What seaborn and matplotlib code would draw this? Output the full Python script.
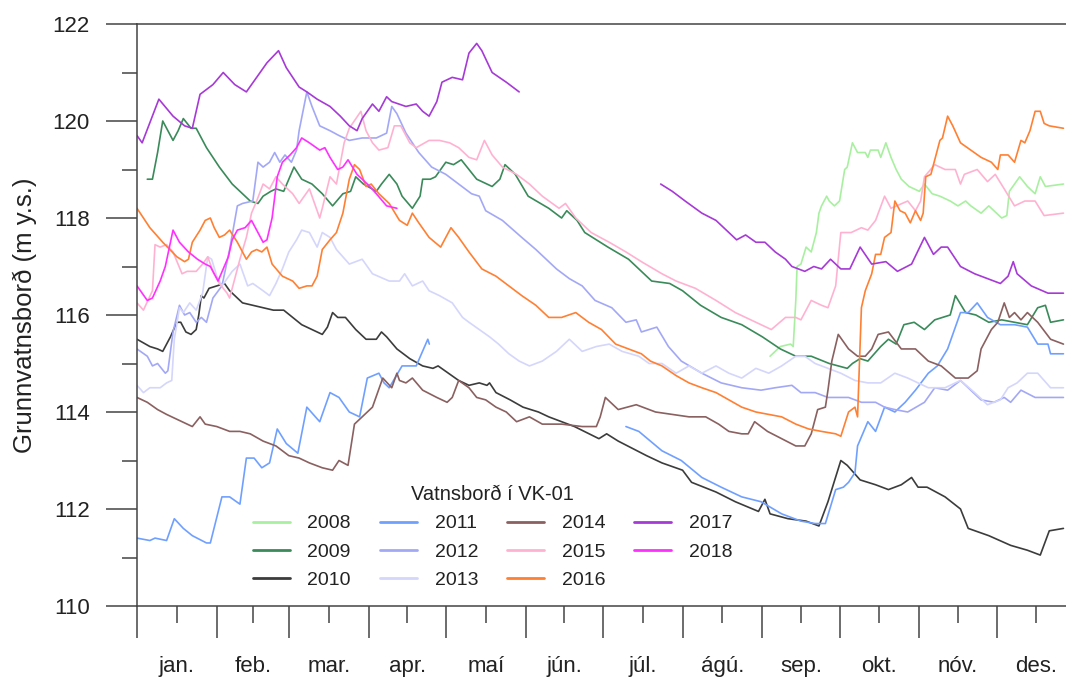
import numpy as np
import pandas as pd
import matplotlib
matplotlib.use("Agg")
import matplotlib.pyplot as plt
from matplotlib.lines import Line2D
import seaborn as sns

# Gögn lesin af myndinni: dagur ársins og vatnsborð (m y.s.)
d2008 = [246, 250, 254, 255, 256, 256.5, 258, 260, 262, 264, 265, 266, 268, 269, 271, 273, 275, 276, 278, 280, 283,
         284, 285, 288, 289, 291, 293, 295, 297, 300, 304, 306, 309, 312, 316, 319, 322, 324, 328, 331, 333, 336, 338,
         339, 341, 343, 346, 349, 351, 353, 360]
v2008 = [115.15, 115.35, 115.4, 115.35, 116.3, 117.0, 117.05, 117.4, 117.3, 117.7, 118.1, 118.25, 118.45, 118.35,
         118.25, 118.35, 119.0, 119.05, 119.55, 119.35, 119.35, 119.25, 119.4, 119.4, 119.25, 119.55, 119.25, 119.0,
         118.8, 118.65, 118.55, 118.7, 118.5, 118.45, 118.35, 118.25, 118.35, 118.25, 118.1, 118.25, 118.15, 118.0,
         118.05, 118.55, 118.7, 118.85, 118.65, 118.5, 118.85, 118.65, 118.7]

d2009 = [4, 6, 8, 10, 14, 16, 18, 21, 23, 27, 32, 37, 44, 47, 49, 52, 54, 57, 61, 64, 68, 72, 76, 80, 83, 85, 88, 93,
         95, 98, 101, 103, 107, 110, 111, 114, 116, 120, 123, 126, 132, 138, 141, 143, 147, 152, 160, 165, 167, 171,
         174, 183, 191, 200, 207, 212, 219, 227, 235, 243, 250, 256, 262, 269, 276, 278, 281, 284, 289, 292, 295, 298,
         302, 306, 310, 316, 318, 322, 326, 331, 336, 341, 346, 350, 353, 355, 360]
v2009 = [118.8, 118.8, 119.35, 120.0, 119.6, 119.8, 120.05, 119.85, 119.85, 119.45, 119.05, 118.7, 118.35, 118.3,
         118.45, 118.55, 118.6, 118.55, 119.05, 118.8, 118.7, 118.5, 118.25, 118.5, 118.55, 118.85, 118.7, 118.55,
         118.7, 118.9, 118.7, 118.45, 118.2, 118.45, 118.8, 118.8, 118.85, 119.15, 119.1, 119.2, 118.8, 118.65, 118.8,
         119.1, 118.9, 118.45, 118.2, 118.0, 118.15, 117.95, 117.7, 117.4, 117.15, 116.7, 116.65, 116.5, 116.2, 115.95,
         115.8, 115.55, 115.3, 115.15, 115.15, 115.0, 114.9, 115.0, 115.1, 115.05, 115.35, 115.5, 115.4, 115.8, 115.85,
         115.7, 115.9, 116.0, 116.4, 116.05, 116.0, 115.85, 115.9, 115.85, 115.8, 116.15, 116.2, 115.85, 115.9]

d2010 = [0, 5, 8, 10, 13, 15.5, 17, 19, 21, 23, 24, 25, 26, 28, 31, 34, 36, 39, 41, 45, 49, 53, 57, 60.5, 64, 68, 72,
         74, 76, 78, 81, 85, 89, 93, 95, 97, 101, 106, 111, 115, 117, 121, 125, 129, 133, 136, 137, 139.5, 145, 150,
         156, 160, 170, 179.5, 182.5, 187, 198, 204, 212, 215.5, 225, 232.5, 241.5, 244, 246, 253, 260, 265, 268.5,
         273.5, 276, 281, 287, 292, 297, 301, 303.5, 307, 314, 320, 323, 331, 339.5, 346, 351, 354.5, 360]
v2010 = [115.5, 115.35, 115.3, 115.25, 115.55, 115.85, 115.85, 115.65, 115.6, 115.7, 116.0, 116.4, 116.35, 116.55,
         116.6, 116.65, 116.5, 116.35, 116.25, 116.2, 116.15, 116.1, 116.1, 115.95, 115.8, 115.7, 115.6, 115.75,
         116.05, 115.95, 115.95, 115.7, 115.5, 115.5, 115.65, 115.55, 115.3, 115.1, 114.95, 114.9, 114.95, 114.8,
         114.65, 114.55, 114.6, 114.55, 114.6, 114.4, 114.25, 114.1, 114.0, 113.9, 113.7, 113.45, 113.55, 113.4,
         113.1, 112.95, 112.8, 112.55, 112.35, 112.15, 111.95, 112.2, 111.9, 111.8, 111.75, 111.65, 112.15, 113.0,
         112.9, 112.6, 112.5, 112.4, 112.5, 112.65, 112.45, 112.45, 112.25, 112.0, 111.6, 111.45, 111.25, 111.15,
         111.05, 111.55, 111.6]

d2011a = [0, 5, 7, 11.5, 14.5, 18, 21.5, 27, 28.5, 33, 36, 40, 42.5, 45.5, 48.5, 51.5, 54.5, 58, 62.5, 66, 71, 75,
          78.5, 82.5, 86.5, 89.5, 94, 96, 98, 103, 108.5, 113, 113.6]
v2011a = [111.4, 111.35, 111.4, 111.35, 111.8, 111.6, 111.45, 111.3, 111.3, 112.25, 112.25, 112.1, 113.05, 113.05,
          112.85, 112.95, 113.65, 113.35, 113.15, 114.1, 113.8, 114.4, 114.3, 114.0, 113.9, 114.7, 114.8, 114.6,
          114.5, 114.95, 114.95, 115.5, 115.4]
d2011b = [190, 195, 204, 211.5, 219.5, 227, 235, 242.5, 250.5, 258, 263.5, 267.5, 269.5, 271.5, 274.5, 276.5, 279,
          280, 284, 287, 290.5, 294.5, 298.5, 302.5, 307.5, 311, 315, 320, 323, 326.5, 330.5, 335.5, 341, 346, 350,
          354, 355, 360]
v2011b = [113.7, 113.6, 113.2, 113.0, 112.65, 112.45, 112.25, 112.15, 111.9, 111.75, 111.7, 111.7, 112.05, 112.4,
          112.45, 112.55, 112.75, 113.3, 113.8, 113.6, 114.1, 114.0, 114.2, 114.45, 114.8, 114.95, 115.3, 116.05,
          116.05, 116.25, 115.95, 115.8, 115.8, 115.75, 115.4, 115.4, 115.2, 115.2]

d2012 = [0, 4, 6, 8, 11, 12, 14, 16.5, 18.5, 20.5, 23, 25, 27, 29.5, 33, 36, 39, 41, 45, 47, 49, 51.5, 53.5, 55.5,
         57.5, 60, 62, 63, 66, 68, 71, 75, 78.5, 82.5, 87.5, 93, 97, 99, 101, 104.5, 109.5, 114.5, 120, 125, 130,
         133, 135.5, 142, 149.5, 155, 163, 168, 173, 178, 184.5, 190, 194, 196, 202, 206.5, 211.5, 219.5, 227, 235,
         242.5, 248, 254.5, 258, 263.5, 268.5, 276.5, 281.5, 287, 290.5, 294.5, 299.5, 306, 310, 315, 320, 324, 328,
         333, 337, 339.5, 343.5, 349, 355, 360]
v2012 = [115.3, 115.15, 114.95, 115.0, 114.8, 114.85, 115.65, 116.2, 116.0, 116.05, 115.85, 115.95, 115.85, 116.35,
         116.6, 117.35, 118.25, 118.3, 118.35, 119.15, 119.05, 119.15, 119.35, 119.15, 119.3, 119.15, 119.4, 119.8,
         120.6, 120.3, 119.9, 119.8, 119.7, 119.6, 119.65, 119.65, 119.75, 120.3, 120.15, 119.75, 119.35, 119.05,
         118.9, 118.7, 118.5, 118.45, 118.15, 117.95, 117.6, 117.35, 116.95, 116.75, 116.6, 116.3, 116.15, 115.85,
         115.9, 115.65, 115.75, 115.35, 115.05, 114.8, 114.6, 114.5, 114.45, 114.5, 114.55, 114.4, 114.4, 114.3,
         114.3, 114.2, 114.2, 114.1, 114.05, 114.0, 114.2, 114.5, 114.45, 114.65, 114.45, 114.25, 114.2, 114.3,
         114.2, 114.45, 114.3, 114.3, 114.3]

d2013 = [0, 2.5, 5, 9, 11.5, 13.5, 14.5, 16.5, 18, 20.5, 23, 25.5, 27.5, 29, 31, 33, 37, 40, 43, 45, 49, 51.5, 54,
         56.5, 59, 62, 64, 67, 70, 72, 75, 77.5, 82.5, 87.5, 91.5, 98, 102, 104, 107, 111, 113.5, 117.5, 122.5, 126.5,
         129, 133, 137, 140.5, 144.5, 148.5, 152.5, 157.5, 163, 168, 173, 178.5, 183.5, 188.5, 195, 199, 204, 209.5,
         214.5, 219.5, 225, 230, 235, 240.5, 245.5, 250.5, 256, 259.5, 263.5, 268.5, 273.5, 279, 284, 289, 294.5,
         299.5, 307.5, 314, 320, 325.5, 330.5, 335.5, 338.5, 342, 346, 350, 355, 360]
v2013 = [114.55, 114.4, 114.5, 114.5, 114.6, 114.65, 115.5, 116.15, 116.05, 116.25, 116.1, 116.45, 117.2, 117.15,
         116.8, 116.6, 116.9, 117.05, 116.6, 116.65, 116.5, 116.4, 116.65, 116.95, 117.3, 117.55, 117.75, 117.7,
         117.4, 117.7, 117.6, 117.35, 117.05, 117.15, 116.85, 116.7, 116.7, 116.85, 116.6, 116.7, 116.5, 116.4,
         116.25, 115.95, 115.85, 115.7, 115.55, 115.4, 115.2, 115.05, 114.95, 115.05, 115.25, 115.5, 115.25, 115.35,
         115.4, 115.25, 115.15, 115.0, 115.0, 114.8, 114.95, 114.8, 114.95, 114.8, 114.7, 114.9, 114.8, 114.95,
         115.15, 115.15, 115.0, 114.9, 114.8, 114.65, 114.6, 114.6, 114.8, 114.7, 114.5, 114.5, 114.65, 114.4,
         114.15, 114.25, 114.5, 114.6, 114.8, 114.8, 114.5, 114.5]

d2014 = [0, 4, 8, 11.5, 15.5, 19.5, 21.5, 24.5, 26.5, 31, 36, 40, 44, 49, 54, 59, 63, 67, 72, 76, 78.5, 82, 84.5,
         87.5, 91.5, 95.5, 99, 101, 102, 104.5, 107, 111, 116.5, 120.5, 122.5, 125, 129, 132, 135.5, 139.5, 143.5,
         147.5, 152.5, 157.5, 165, 173, 178.5, 180, 182, 187, 194, 201.5, 208, 214.5, 221, 226, 230, 235, 237.5, 240,
         245, 250.5, 256, 259.5, 262, 264.5, 267.5, 268.5, 270, 272.5, 276.5, 280, 283, 285.5, 288, 292, 297, 302.5,
         307.5, 312.5, 318, 323, 326.5, 328, 332, 334.5, 337, 339, 341, 343.5, 346, 350, 355, 360]
v2014 = [114.3, 114.2, 114.05, 113.95, 113.85, 113.75, 113.7, 113.9, 113.75, 113.7, 113.6, 113.6, 113.55, 113.4,
         113.3, 113.1, 113.05, 112.95, 112.85, 112.8, 113.0, 112.9, 113.75, 113.9, 114.1, 114.7, 114.5, 114.8,
         114.65, 114.6, 114.7, 114.45, 114.3, 114.2, 114.3, 114.65, 114.5, 114.3, 114.25, 114.1, 114.0, 113.8, 113.9,
         113.75, 113.75, 113.7, 113.7, 113.9, 114.3, 114.05, 114.15, 114.0, 113.95, 113.9, 113.9, 113.75, 113.6,
         113.55, 113.55, 113.8, 113.6, 113.45, 113.3, 113.3, 113.55, 114.05, 114.1, 114.45, 115.05, 115.6, 115.3,
         115.15, 115.15, 115.3, 115.6, 115.65, 115.3, 115.3, 115.05, 114.95, 114.7, 114.7, 114.85, 115.3, 115.7,
         115.85, 116.25, 115.95, 116.05, 115.9, 116.05, 115.85, 115.5, 115.4]

d2015 = [0, 2.5, 6, 7, 9, 11.5, 14, 17.5, 19.5, 23, 25.5, 27.5, 29.5, 32, 35, 36, 40, 42.5, 44.5, 46.5, 49, 51.5,
         54, 56.5, 60.5, 63, 67, 71, 72, 75, 77.5, 80.5, 82.5, 87, 89, 91.5, 94, 97.5, 100, 102.5, 106, 108.5, 113.5,
         117.5, 121.5, 125, 129, 132, 135, 138, 142, 147.5, 152.5, 157.5, 164, 166.5, 170.5, 176.5, 183.5, 190, 196,
         204, 209.5, 217, 225, 232.5, 240.5, 246.5, 252, 256, 258, 262, 266, 268.5, 271.5, 273.5, 277.5, 281.5, 284,
         287, 290.5, 293, 299.5, 302.5, 304.5, 306, 310, 314, 318, 320, 321.5, 326.5, 330.5, 333.5, 337, 341, 345,
         349, 352.5, 360]
v2015 = [116.25, 116.1, 116.5, 117.45, 117.4, 117.45, 117.3, 116.85, 116.9, 116.9, 117.05, 117.2, 116.9, 116.65,
         116.45, 116.35, 117.15, 117.6, 118.1, 118.35, 118.7, 118.6, 118.85, 118.7, 118.5, 118.3, 118.6, 118.0,
         118.2, 118.85, 118.7, 119.55, 119.85, 120.2, 119.8, 119.55, 119.4, 119.45, 119.9, 119.9, 119.55, 119.45,
         119.6, 119.6, 119.55, 119.45, 119.25, 119.2, 119.6, 119.3, 119.05, 118.9, 118.7, 118.45, 118.2, 118.3,
         118.0, 117.7, 117.5, 117.3, 117.1, 116.85, 116.7, 116.55, 116.3, 116.05, 115.85, 115.7, 115.95, 115.95,
         115.9, 116.3, 116.2, 116.15, 116.6, 117.7, 117.7, 117.8, 117.75, 117.95, 118.45, 118.2, 118.35, 118.15,
         118.35, 118.85, 119.1, 119.0, 119.0, 118.7, 118.9, 119.0, 118.75, 118.9, 118.6, 118.25, 118.35, 118.35,
         118.05, 118.1]

d2016 = [0, 5, 10, 15.5, 18.5, 20, 21.5, 24.5, 26.5, 28.5, 30, 32, 34, 36, 39, 42.5, 44.5, 46.5, 48.5, 50.5, 52.5,
         56.5, 60.5, 63, 66, 68, 70, 72, 75, 77.5, 80, 82.5, 84.5, 86.5, 89, 91, 94, 98, 102, 105, 107, 109.5, 113.5,
         118, 120, 122, 125, 129, 134, 139.5, 144.5, 149.5, 155, 160, 165, 170.5, 175.5, 180.5, 186, 191, 196, 199.5,
         204, 209.5, 214.5, 219.5, 225, 230, 235, 240.5, 245.5, 250.5, 256, 261, 266, 271.5, 273.5, 276.5, 279, 280,
         281.5, 283, 285.5, 287, 289, 290.5, 293, 294.5, 296.5, 298.5, 300.5, 302.5, 304.5, 305.5, 306.5, 308.5, 312,
         313, 315, 317, 320, 324, 328, 332, 334.5, 335.5, 338.5, 341, 343.5, 345, 347, 349, 351, 352.5, 354.5, 360]
v2016 = [118.2, 117.8, 117.5, 117.2, 117.1, 117.15, 117.5, 117.75, 117.95, 118.0, 117.8, 117.6, 117.65, 117.75,
         117.5, 117.15, 117.3, 117.35, 117.3, 117.4, 117.05, 116.8, 116.7, 116.55, 116.6, 116.6, 116.8, 117.35,
         117.55, 117.7, 118.1, 118.8, 119.1, 119.0, 118.65, 118.7, 118.5, 118.3, 117.95, 117.85, 118.1, 117.9,
         117.6, 117.4, 117.6, 117.8, 117.6, 117.3, 116.95, 116.8, 116.6, 116.4, 116.2, 115.95, 115.95, 116.05,
         115.85, 115.7, 115.4, 115.3, 115.2, 115.05, 114.95, 114.75, 114.6, 114.5, 114.4, 114.25, 114.1, 114.0,
         113.95, 113.9, 113.75, 113.65, 113.6, 113.55, 113.5, 114.0, 114.1, 113.9, 116.15, 116.5, 116.85, 117.25,
         117.25, 117.6, 117.7, 118.35, 118.15, 118.1, 117.9, 118.15, 117.95, 118.1, 118.85, 118.9, 119.6, 119.65,
         120.1, 119.9, 119.55, 119.4, 119.25, 119.15, 119.0, 119.3, 119.3, 119.15, 119.6, 119.55, 119.8, 120.2,
         120.2, 119.95, 119.9, 119.85]

d2017a = [0, 2, 8.5, 14, 18.5, 21.5, 24.5, 29.5, 33.5, 38, 42.5, 50.5, 55, 58, 63, 66, 70, 75, 79, 82.5, 85.5, 87.5,
          91.5, 94, 97, 99, 104.5, 108.5, 111, 113.5, 116.5, 118.5, 122.5, 126.5, 129, 132, 134, 138, 143.5, 148.5]
v2017a = [119.7, 119.55, 120.45, 120.1, 119.9, 119.85, 120.55, 120.75, 121.0, 120.75, 120.6, 121.2, 121.45, 121.1,
          120.7, 120.6, 120.45, 120.3, 120.1, 119.9, 119.8, 120.05, 120.35, 120.2, 120.5, 120.4, 120.3, 120.35,
          120.2, 120.1, 120.4, 120.8, 120.9, 120.85, 121.4, 121.6, 121.45, 121.0, 120.8, 120.6]
d2017b = [203.5, 208, 213, 219.5, 225, 230, 233, 236.5, 240.5, 244, 248, 252, 254.5, 259.5, 263, 266, 269.5, 273.5,
          277, 281, 285.5, 291, 295.5, 301, 306, 309.5, 312.5, 315, 320, 325.5, 330.5, 335.5, 338.5, 340.5, 342,
          347.5, 354, 360]
v2017b = [118.7, 118.55, 118.35, 118.1, 117.95, 117.7, 117.55, 117.65, 117.5, 117.5, 117.3, 117.15, 117.0, 116.9,
          117.0, 116.95, 117.15, 116.95, 116.95, 117.4, 117.05, 117.1, 116.9, 117.05, 117.6, 117.25, 117.4, 117.4,
          117.0, 116.85, 116.75, 116.65, 116.8, 117.1, 116.85, 116.6, 116.45, 116.45]

d2018 = [0, 4, 6, 9, 11, 14, 16.5, 20, 23.5, 26.5, 28.5, 31.5, 33.5, 35.5, 37, 39, 42, 44.5, 46.5, 49, 50.5, 52.5,
         54.5, 56.5, 59.5, 62, 64, 67, 71, 73, 75, 78, 80, 82, 85.5, 87.5, 90.5, 93, 97, 101]
v2018 = [116.6, 116.3, 116.35, 116.7, 117.0, 117.75, 117.5, 117.3, 117.15, 117.05, 117.0, 116.7, 116.95, 117.2,
         117.55, 117.75, 117.8, 117.95, 117.75, 117.5, 117.55, 118.0, 118.85, 119.15, 119.3, 119.45, 119.65, 119.55,
         119.4, 119.45, 119.25, 119.0, 119.05, 119.2, 118.9, 118.8, 118.65, 118.5, 118.25, 118.2]

years = ["2008", "2009", "2010", "2011", "2012", "2013", "2014", "2015", "2016", "2017", "2018"]
colors = ["#a8f0a0", "#3a8a5a", "#3c3c3c", "#70a0ff", "#a3a8f6", "#d4d6fb", "#8a6060",
          "#ffb2d0", "#ff8033", "#a63ad6", "#ff30ff"]
months = ["jan.", "feb.", "mar.", "apr.", "maí", "jún.", "júl.", "ágú.", "sep.", "okt.", "nóv.", "des."]
month_start = [0, 31, 59, 90, 120, 151, 181, 212, 243, 273, 304, 334, 365]

segments = [
    ("2008", "a", d2008, v2008), ("2009", "a", d2009, v2009), ("2010", "a", d2010, v2010),
    ("2011", "a", d2011a, v2011a), ("2011", "b", d2011b, v2011b), ("2012", "a", d2012, v2012),
    ("2013", "a", d2013, v2013), ("2014", "a", d2014, v2014), ("2015", "a", d2015, v2015),
    ("2016", "a", d2016, v2016), ("2017", "a", d2017a, v2017a), ("2017", "b", d2017b, v2017b),
    ("2018", "a", d2018, v2018),
]
df = pd.concat([pd.DataFrame({"dagur": d, "hæð": v, "ár": y, "hluti": s}) for y, s, d, v in segments],
               ignore_index=True)
palette = dict(zip(years, colors))

sns.set_style("ticks")
plt.rcParams["font.family"] = ["Liberation Sans", "DejaVu Sans"]
txt = "#222222"
tick_col = "#444444"

fig = plt.figure(figsize=(10.66, 6.77), dpi=100)
ax = fig.add_axes([137 / 1066, 1 - 606 / 677, 929 / 1066, 582 / 677])

sns.lineplot(data=df, x="dagur", y="hæð", hue="ár", units="hluti", estimator=None, sort=False,
             palette=palette, hue_order=years, linewidth=1.2, legend=False, ax=ax)

ax.set_xlim(0, 361)
ax.set_ylim(110, 122)

for side in ["left", "top", "bottom"]:
    ax.spines[side].set_color(tick_col)
    ax.spines[side].set_linewidth(1.1)
ax.spines["right"].set_visible(False)

ax.set_yticks(range(110, 123, 2))
ax.set_yticks(range(111, 122, 2), minor=True)
ax.tick_params(axis="y", which="major", left=True, length=22, width=1.1, pad=12, labelsize=16,
               color=tick_col, labelcolor=txt)
ax.tick_params(axis="y", which="minor", left=True, length=11, width=1.1, color=tick_col)

mids = [(month_start[i] + month_start[i + 1]) / 2 for i in range(12)]
ax.set_xticks(month_start[:12])
ax.set_xticklabels([""] * 12)
ax.set_xticks(mids, minor=True)
ax.set_xticklabels(months, minor=True)
ax.tick_params(axis="x", which="major", bottom=True, length=23, width=1.1, color=tick_col)
ax.tick_params(axis="x", which="minor", bottom=True, length=12, width=1.1, color=tick_col, pad=24,
               labelsize=16, labelcolor=txt)

ax.set_xlabel("")
ax.set_ylabel("Grunnvatnsborð (m y.s.)", fontsize=18.5, color=txt, labelpad=11)

handles = [Line2D([0], [0], color=c, lw=2) for c in colors]
leg = ax.legend(handles, years, title="Vatnsborð í VK-01", ncol=4, frameon=False,
                loc="upper left", bbox_to_anchor=(253 / 1066, 1 - 485 / 677),
                bbox_transform=fig.transFigure, borderpad=0, borderaxespad=0,
                fontsize=14, title_fontsize=14.5, handlelength=1.9, handletextpad=0.9,
                columnspacing=1.5, labelspacing=0.55)
for t in leg.get_texts():
    t.set_color(txt)
leg.get_title().set_color(txt)

fig.savefig("out.png", dpi=100)
